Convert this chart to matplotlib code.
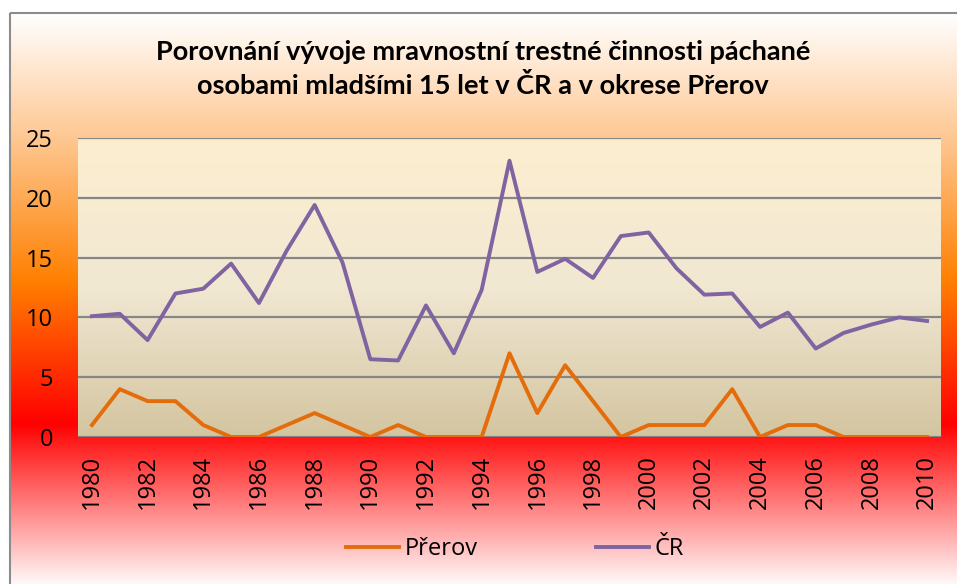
import matplotlib.pyplot as plt
import numpy as np
from matplotlib.colors import LinearSegmentedColormap
from matplotlib.patches import Rectangle

years = list(range(1980, 2011))
prerov = [1, 4, 3, 3, 1, 0, 0, 1, 2, 1, 0, 1, 0, 0, 0, 7, 2, 6, 3, 0,
          1, 1, 1, 4, 0, 1, 1, 0, 0, 0, 0]
cr = [10.1, 10.3, 8.1, 12.0, 12.4, 14.5, 11.2, 15.6, 19.4, 14.6, 6.5, 6.4,
      11.0, 7.0, 12.3, 23.1, 13.8, 14.9, 13.3, 16.8, 17.1, 14.1, 11.9, 12.0,
      9.2, 10.4, 7.4, 8.7, 9.4, 10.0, 9.7]
title = 'Porovnání vývoje mravnostní trestné činnosti páchané\nosobami mladšími 15 let v ČR a v okrese Přerov'

W, H = 957, 584
fig = plt.figure(figsize=(W / 100, H / 100), dpi=100)

# outer chart background (gradient white -> peach -> orange -> red -> white)
bg = fig.add_axes([0, 0, 1, 1])
bg.set_xlim(0, W)
bg.set_ylim(H, 0)
bg.axis('off')
outer = LinearSegmentedColormap.from_list('outer', [
    (0.0, (1, 1, 1)),
    (0.22, (0.996, 0.78, 0.57)),
    (0.47, (1.0, 0.5, 0.0)),
    (0.72, (1.0, 0.0, 0.0)),
    (1.0, (1.0, 0.97, 0.97)),
])
grad = np.linspace(0, 1, 256).reshape(-1, 1)
bg.imshow(grad, cmap=outer, aspect='auto', extent=[10, W + 5, H, 13], zorder=0)
bg.add_patch(Rectangle((9.5, 12.5), W, H, fill=False, edgecolor='#8c8c8c', lw=1.5, zorder=1))

fig.text(0.505, (H - 69) / H, title, ha='center', va='center', fontsize=19.5,
         fontweight='bold', family='Lato', linespacing=1.4)

# plot area
left, right, top, bottom = 78, 941, 138, 437
ax = fig.add_axes([left / W, (H - bottom) / H, (right - left) / W, (bottom - top) / H])
ax.set_xlim(1979.5, 2010.5)
ax.set_ylim(0, 25)
inner = LinearSegmentedColormap.from_list('inner', ['#fdeecf', '#f1e8d3', '#d4c5a0'])
ax.imshow(grad, cmap=inner, aspect='auto', extent=[1979.5, 2010.5, 0, 25], zorder=0)
for v in range(0, 26, 5):
    ax.axhline(v, color='#868686', lw=1.6, zorder=1)

ax.plot(years, prerov, color='#e46c0a', lw=2.8, label='Přerov', zorder=3)
ax.plot(years, cr, color='#8064a2', lw=2.8, label='ČR', zorder=3)

for s in ax.spines.values():
    s.set_visible(False)
ax.set_yticks(range(0, 26, 5))
ax.set_xticks(years[::2])
ax.set_xticklabels([str(y) for y in years[::2]], rotation=90)
ax.tick_params(axis='y', length=0, pad=18, labelsize=17)
ax.tick_params(axis='x', length=0, pad=13, labelsize=17)
for lab in ax.get_xticklabels() + ax.get_yticklabels():
    lab.set_family('Open Sans')

leg = fig.legend(loc='center', bbox_to_anchor=(0.538, (H - 549) / H), ncol=2,
                 frameon=False, handlelength=2.25, handletextpad=0.25, columnspacing=5.0,
                 prop={'family': 'Open Sans', 'size': 17})

fig.savefig('out.png', dpi=100)
